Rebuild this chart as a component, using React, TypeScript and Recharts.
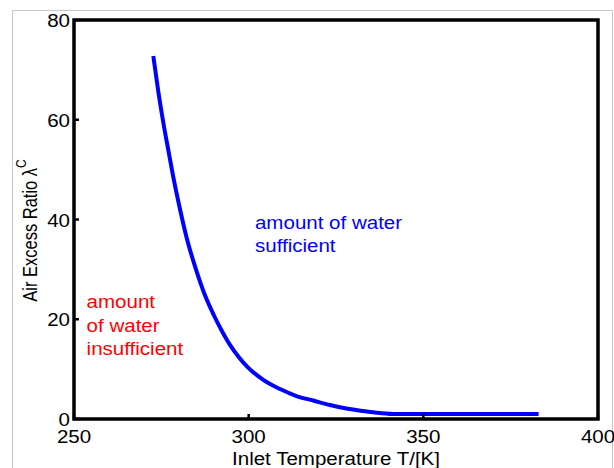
import React from 'react';
import { LineChart, Line, XAxis, YAxis, ReferenceArea, ReferenceDot } from 'recharts';

// inlet temperature [K] and air excess ratio
const temps = [272.7, 274.1, 275.6, 277.0, 278.4, 280.3, 282.3, 285.1, 287.5, 289.9, 292.3, 294.7, 297.2, 299.7, 304.3, 309.0, 313.7, 318.5, 323.3, 328.0, 332.8, 337.6, 342.0, 360.0, 383.0];
const lambdas = [72.8, 65.8, 59.3, 53.9, 48.6, 42.2, 36.2, 29.6, 24.8, 21.0, 17.7, 14.8, 12.4, 10.4, 7.8, 6.0, 4.6, 3.7, 2.8, 2.1, 1.6, 1.2, 1.0, 1.0, 1.0];

const xTicks = [250, 300, 350, 400];
const yTicks = [0, 20, 40, 60, 80];

const data = temps.map((t, i) => ({ T: t, lambda: lambdas[i] }));

const FONT = '"Liberation Sans", Arial, Helvetica, sans-serif';
const TICK_LEN = 5;
const SX = 1.11; // the picture's text is a bit wider than tall

// text drawn with a small horizontal stretch
const WideText = ({ x, y, anchor = 'start', size, color = '#000', children }: any) => (
  <text
    transform={`translate(${x},${y}) scale(${SX},1)`}
    x={0}
    y={0}
    textAnchor={anchor}
    fontFamily={FONT}
    fontSize={size}
    fill={color}
  >
    {children}
  </text>
);

const BottomTick = (props: any) => {
  const { x, y, payload } = props;
  const axisY = y - 8;
  return (
    <g>
      <line x1={x} x2={x} y1={axisY} y2={axisY - TICK_LEN} stroke="#000" strokeWidth={2.5} />
      <WideText x={x} y={axisY + 24} anchor="middle" size={18.5}>
        {payload.value}
      </WideText>
    </g>
  );
};

const LeftTick = (props: any) => {
  const { x, y, payload } = props;
  const axisX = x + 4;
  return (
    <g>
      <line x1={axisX} x2={axisX + TICK_LEN} y1={y} y2={y} stroke="#000" strokeWidth={2.5} />
      <WideText x={axisX - 4} y={y + 7} anchor="end" size={18.5}>
        {payload.value}
      </WideText>
    </g>
  );
};

const TopTick = (props: any) => {
  const { x, y } = props;
  return <line x1={x} x2={x} y1={y} y2={y + TICK_LEN} stroke="#000" strokeWidth={2.5} />;
};

const RightTick = (props: any) => {
  const { x, y } = props;
  return <line x1={x} x2={x - TICK_LEN} y1={y} y2={y} stroke="#000" strokeWidth={2.5} />;
};

const noteLabel = (lines: string[], color: string) => (props: any) => {
  const { viewBox } = props;
  return (
    <g>
      {lines.map((l, i) => (
        <WideText key={l} x={viewBox.x} y={viewBox.y + i * 23.5} size={18.5} color={color}>
          {l}
        </WideText>
      ))}
    </g>
  );
};

const YTitle = (props: any) => {
  const { viewBox } = props;
  const cx = viewBox.x + 37;
  const cy = viewBox.y + viewBox.height / 2 + 11;
  return (
    <text
      transform={`translate(${cx},${cy}) rotate(-90) scale(1,1.18)`}
      x={0}
      y={0}
      textAnchor="middle"
      fontFamily={FONT}
      fontSize={16.5}
      fill="#000"
    >
      Air Excess Ratio λ
      <tspan dy={-9} fontSize={12}>C</tspan>
    </text>
  );
};

const XTitle = (props: any) => {
  const { viewBox } = props;
  return (
    <WideText x={viewBox.x + viewBox.width / 2} y={465} anchor="middle" size={18.5}>
      Inlet Temperature T/[K]
    </WideText>
  );
};

export default function App() {
  return (
    <div style={{ position: 'absolute', left: 0, top: 0, width: 614, height: 468, background: '#fff', overflow: 'hidden' }}>
      <div
        style={{
          position: 'absolute',
          left: 12,
          top: 10,
          width: 599,
          height: 470,
          border: '1px solid #c8c8c8',
        }}
      />
      <LineChart
        width={614}
        height={468}
        data={data}
        margin={{ top: 20, right: 16, bottom: 0, left: 0 }}
        style={{ position: 'absolute', left: 0, top: 0 }}
      >
        <XAxis
          dataKey="T"
          type="number"
          domain={[250, 400]}
          ticks={xTicks}
          allowDataOverflow
          height={49}
          axisLine={false}
          tickLine={false}
          tickSize={0}
          tickMargin={8}
          tick={<BottomTick />}
          label={{ content: <XTitle /> }}
        />
        <XAxis
          xAxisId="top"
          orientation="top"
          type="number"
          domain={[250, 400]}
          ticks={xTicks.slice(1, -1)}
          allowDataOverflow
          height={0}
          axisLine={false}
          tickLine={false}
          tickSize={0}
          tickMargin={0}
          tick={<TopTick />}
        />
        <YAxis
          type="number"
          domain={[0, 80]}
          ticks={yTicks}
          allowDataOverflow
          width={74}
          axisLine={false}
          tickLine={false}
          tickSize={0}
          tickMargin={4}
          tick={<LeftTick />}
          label={{ content: <YTitle /> }}
        />
        <YAxis
          yAxisId="right"
          orientation="right"
          type="number"
          domain={[0, 80]}
          ticks={yTicks.slice(1, -1)}
          allowDataOverflow
          width={0}
          axisLine={false}
          tickLine={false}
          tickSize={0}
          tickMargin={0}
          tick={<RightTick />}
        />
        <ReferenceArea x1={250} x2={400} y1={0} y2={80} fill="none" stroke="#000" strokeWidth={3.5} />
        <Line
          type="monotone"
          dataKey="lambda"
          stroke="#0000ff"
          strokeWidth={4}
          dot={false}
          activeDot={false}
          isAnimationActive={false}
        />
        <ReferenceDot
          x={301.8}
          y={38.1}
          r={0}
          fill="none"
          stroke="none"
          label={{ content: noteLabel(['amount of water', 'sufficient'], '#0000ff') }}
        />
        <ReferenceDot
          x={253.6}
          y={22.2}
          r={0}
          fill="none"
          stroke="none"
          label={{ content: noteLabel(['amount', 'of water', 'insufficient'], '#ff0000') }}
        />
      </LineChart>
    </div>
  );
}
